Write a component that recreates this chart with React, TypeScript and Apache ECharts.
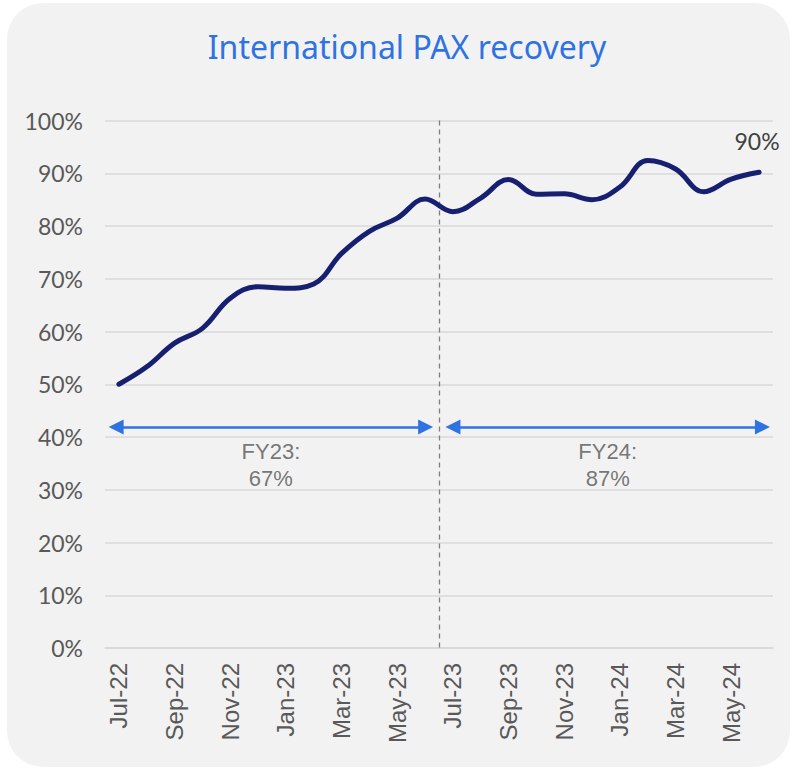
import React, { useEffect, useRef } from "react";
import * as echarts from "echarts";

const months = [
  "Jul-22", "Aug-22", "Sep-22", "Oct-22", "Nov-22", "Dec-22",
  "Jan-23", "Feb-23", "Mar-23", "Apr-23", "May-23", "Jun-23",
  "Jul-23", "Aug-23", "Sep-23", "Oct-23", "Nov-23", "Dec-23",
  "Jan-24", "Feb-24", "Mar-24", "Apr-24", "May-24", "Jun-24",
];
const recovery = [
  50, 53.3, 57.8, 60.6, 66.3, 68.5, 68.2, 69.0, 74.8, 79.0, 81.5, 85.1,
  82.7, 85.3, 88.8, 86.0, 86.1, 85.0, 87.4, 92.4, 90.8, 86.5, 88.9, 90.2,
];
const fyLabels = ["FY23:\n67%", "FY24:\n87%"];
const fyStart = [-0.1, 12.0];
const fyEnd = [11.02, 23.12];
const fyArrowLevel = 41.9;
const fyTextLevel = 34.6;
const fySplit = 11.5;

export default function App() {
  const ref = useRef<HTMLDivElement>(null);
  useEffect(() => {
    if (!ref.current) return;
    const chart = echarts.init(ref.current, undefined, { renderer: "svg" });
    chart.setOption({
      animation: false,
      backgroundColor: "#ffffff",
      title: {
        text: "International PAX recovery",
        left: 402,
        top: 25,
        textAlign: "center",
        textStyle: { color: "#2F72E2", fontSize: 32, fontWeight: "normal", fontFamily: "Noto Sans" },
      },
      graphic: [
        {
          type: "rect",
          z: -100,
          silent: true,
          shape: { x: 7, y: 3, width: 783, height: 764, r: 36 },
          style: { fill: "#F2F2F2" },
        },
      ],
      grid: { left: 105, right: 18, top: 120.5, bottom: 120, containLabel: false },
      xAxis: [
        {
          type: "category",
          data: months,
          boundaryGap: true,
          axisLine: { show: true, lineStyle: { color: "#D9D9D9", width: 1.5 } },
          axisTick: { show: false },
          axisLabel: {
            interval: 1,
            rotate: 90,
            margin: 15,
            color: "#595959",
            fontSize: 24,
            fontFamily: "Liberation Sans",
          },
        },
        { type: "value", min: -0.5, max: 23.5, show: false },
      ],
      yAxis: {
        type: "value",
        min: 0,
        max: 100,
        interval: 10,
        axisLine: { show: false },
        axisTick: { show: false },
        splitLine: { lineStyle: { color: "#D9D9D9", width: 1.5 } },
        axisLabel: {
          formatter: "{value}%",
          margin: 22,
          color: "#595959",
          fontSize: 23,
          fontFamily: "Lato",
        },
      },
      series: [
        {
          type: "line",
          data: recovery,
          smooth: 0.4,
          showSymbol: false,
          symbol: "none",
          lineStyle: { color: "#172070", width: 5, cap: "round" },
          endLabel: {
            show: true,
            formatter: (p: any) => Math.round(p.value) + "%",
            color: "#404040",
            fontSize: 23,
            fontFamily: "Lato",
            distance: 0,
            align: "center",
            verticalAlign: "middle",
            offset: [-2, -31],
          },
          z: 5,
        },
        {
          type: "scatter",
          xAxisIndex: 1,
          symbolSize: 0,
          data: fyLabels.map((t, i) => [(fyStart[i] + fyEnd[i]) / 2, fyTextLevel, t]),
          label: {
            show: true,
            position: "inside",
            formatter: (p: any) => p.value[2],
            color: "#555555",
            fontSize: 22,
            lineHeight: 27,
            fontFamily: "Liberation Sans",
          },
          markLine: {
            silent: true,
            animation: false,
            label: { show: false },
            data: [
              [
                { coord: [fySplit, 100], symbol: "none", lineStyle: { color: "#7F7F7F", width: 1.3, type: [5, 4] } },
                { coord: [fySplit, 0], symbol: "none" },
              ],
              ...fyLabels.map((_, i) => [
                {
                  coord: [fyStart[i], fyArrowLevel],
                  symbol: "triangle",
                  symbolSize: [15, 15],
                  lineStyle: { color: "#2F72E2", width: 2.5, type: "solid" },
                },
                { coord: [fyEnd[i], fyArrowLevel], symbol: "triangle", symbolSize: [15, 15] },
              ]),
            ],
            itemStyle: { color: "#2F72E2" },
          },
        },
      ],
    });
    return () => chart.dispose();
  }, []);
  return (
    <div
      ref={ref}
      style={{ position: "fixed", left: 0, top: 0, width: 791, height: 768 }}
    />
  );
}
